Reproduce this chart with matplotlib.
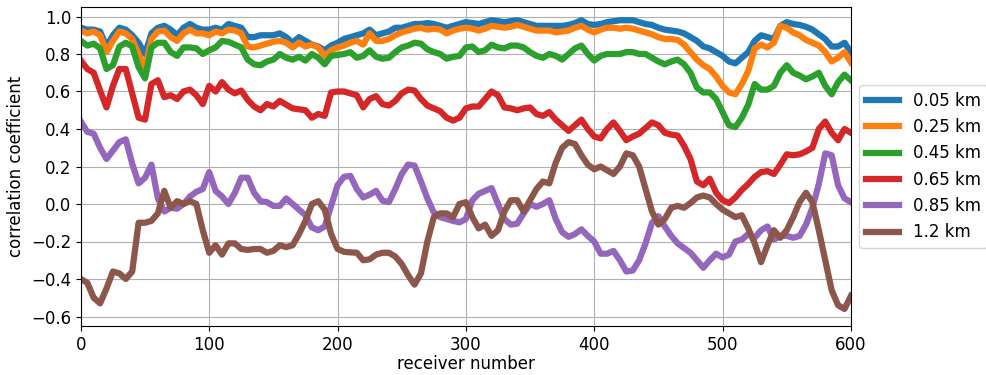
import numpy as np
import matplotlib.pyplot as plt

# receiver numbers (every 5th receiver)
receivers = np.arange(0, 601, 5)

labels = ["0.05 km", "0.25 km", "0.45 km", "0.65 km", "0.85 km", "1.2 km"]

corr_005 = [0.94, 0.93, 0.93, 0.92, 0.84, 0.90, 0.94, 0.93, 0.90, 0.86,
            0.80, 0.91, 0.94, 0.95, 0.93, 0.90, 0.94, 0.96, 0.94, 0.93,
            0.93, 0.94, 0.93, 0.96, 0.95, 0.94, 0.89, 0.89, 0.90, 0.90,
            0.90, 0.91, 0.89, 0.86, 0.89, 0.87, 0.85, 0.84, 0.82, 0.845,
            0.86, 0.88, 0.89, 0.90, 0.91, 0.93, 0.90, 0.91, 0.92, 0.94,
            0.94, 0.95, 0.96, 0.96, 0.965, 0.96, 0.95, 0.94, 0.95, 0.96,
            0.97, 0.965, 0.96, 0.97, 0.98, 0.975, 0.97, 0.975, 0.98, 0.97,
            0.96, 0.95, 0.95, 0.95, 0.95, 0.95, 0.955, 0.965, 0.98, 0.96,
            0.955, 0.96, 0.97, 0.975, 0.98, 0.98, 0.98, 0.97, 0.96, 0.955,
            0.94, 0.93, 0.925, 0.92, 0.91, 0.89, 0.87, 0.84, 0.83, 0.81,
            0.79, 0.76, 0.75, 0.78, 0.81, 0.87, 0.90, 0.89, 0.88, 0.95,
            0.97, 0.96, 0.955, 0.945, 0.93, 0.905, 0.88, 0.84, 0.84, 0.86,
            0.81]

corr_025 = [0.925, 0.91, 0.92, 0.90, 0.81, 0.87, 0.92, 0.91, 0.88, 0.80,
            0.72, 0.88, 0.92, 0.925, 0.89, 0.87, 0.91, 0.93, 0.91, 0.91,
            0.90, 0.92, 0.91, 0.93, 0.925, 0.91, 0.84, 0.835, 0.845, 0.855,
            0.865, 0.87, 0.86, 0.835, 0.86, 0.84, 0.85, 0.835, 0.79, 0.82,
            0.835, 0.845, 0.86, 0.87, 0.85, 0.91, 0.87, 0.87, 0.88, 0.90,
            0.915, 0.925, 0.935, 0.94, 0.93, 0.935, 0.93, 0.91, 0.925, 0.935,
            0.94, 0.935, 0.925, 0.935, 0.95, 0.945, 0.94, 0.945, 0.955, 0.945,
            0.935, 0.925, 0.925, 0.925, 0.915, 0.92, 0.925, 0.94, 0.95, 0.93,
            0.915, 0.93, 0.94, 0.94, 0.935, 0.94, 0.935, 0.925, 0.915, 0.905,
            0.89, 0.88, 0.88, 0.875, 0.85, 0.81, 0.77, 0.74, 0.72, 0.68,
            0.63, 0.595, 0.585, 0.64, 0.71, 0.83, 0.85, 0.835, 0.86, 0.95,
            0.94, 0.915, 0.90, 0.875, 0.86, 0.845, 0.81, 0.76, 0.78, 0.81,
            0.755]

corr_045 = [0.87, 0.845, 0.855, 0.83, 0.72, 0.74, 0.84, 0.86, 0.84, 0.73,
            0.67, 0.835, 0.86, 0.86, 0.81, 0.79, 0.835, 0.835, 0.83, 0.80,
            0.82, 0.835, 0.87, 0.865, 0.85, 0.835, 0.77, 0.745, 0.74, 0.76,
            0.77, 0.80, 0.78, 0.77, 0.785, 0.765, 0.80, 0.78, 0.745, 0.79,
            0.795, 0.80, 0.81, 0.78, 0.79, 0.82, 0.785, 0.775, 0.78, 0.81,
            0.835, 0.845, 0.86, 0.855, 0.825, 0.81, 0.80, 0.775, 0.785, 0.79,
            0.835, 0.84, 0.81, 0.82, 0.85, 0.835, 0.83, 0.845, 0.845, 0.835,
            0.81, 0.79, 0.78, 0.80, 0.79, 0.77, 0.80, 0.83, 0.845, 0.80,
            0.765, 0.79, 0.80, 0.80, 0.80, 0.81, 0.81, 0.80, 0.80, 0.78,
            0.76, 0.745, 0.76, 0.77, 0.745, 0.70, 0.62, 0.595, 0.595, 0.56,
            0.49, 0.42, 0.41, 0.46, 0.53, 0.64, 0.61, 0.61, 0.63, 0.70,
            0.74, 0.70, 0.685, 0.665, 0.68, 0.70, 0.63, 0.585, 0.65, 0.69,
            0.66]

corr_065 = [0.765, 0.72, 0.70, 0.605, 0.515, 0.63, 0.72, 0.72, 0.59, 0.46,
            0.45, 0.64, 0.66, 0.57, 0.58, 0.56, 0.60, 0.61, 0.58, 0.533,
            0.63, 0.60, 0.65, 0.61, 0.59, 0.605, 0.555, 0.52, 0.50, 0.533,
            0.52, 0.55, 0.53, 0.51, 0.505, 0.50, 0.46, 0.48, 0.47, 0.595,
            0.60, 0.60, 0.59, 0.58, 0.515, 0.56, 0.575, 0.533, 0.525, 0.55,
            0.59, 0.61, 0.605, 0.56, 0.525, 0.51, 0.495, 0.46, 0.445, 0.46,
            0.51, 0.52, 0.52, 0.56, 0.60, 0.58, 0.515, 0.51, 0.50, 0.51,
            0.515, 0.48, 0.47, 0.49, 0.45, 0.42, 0.39, 0.42, 0.45, 0.40,
            0.36, 0.35, 0.40, 0.435, 0.39, 0.34, 0.36, 0.375, 0.405, 0.435,
            0.42, 0.38, 0.37, 0.365, 0.31, 0.24, 0.12, 0.10, 0.135, 0.06,
            0.02, 0.005, 0.035, 0.075, 0.107, 0.145, 0.17, 0.175, 0.16, 0.21,
            0.265, 0.26, 0.265, 0.28, 0.30, 0.40, 0.44, 0.38, 0.34, 0.40,
            0.38]

corr_085 = [0.44, 0.385, 0.375, 0.30, 0.24, 0.285, 0.33, 0.345, 0.215, 0.11,
            0.14, 0.21, 0.03, -0.04, -0.02, -0.025, 0.0, 0.04, 0.065, 0.08,
            0.17, 0.07, 0.04, 0.0, 0.06, 0.14, 0.14, 0.06, 0.015, 0.01,
            -0.01, -0.01, 0.03, 0.0, -0.03, -0.06, -0.125, -0.14, -0.12, -0.01,
            0.10, 0.145, 0.15, 0.08, 0.035, 0.05, 0.07, 0.018, 0.01, 0.08,
            0.16, 0.21, 0.205, 0.12, 0.03, -0.045, -0.07, -0.08, -0.09, -0.098,
            -0.08, 0.02, 0.055, 0.07, 0.085, 0.0, -0.08, -0.11, -0.105, -0.05,
            0.0, -0.015, 0.0, 0.02, -0.08, -0.15, -0.175, -0.16, -0.135, -0.17,
            -0.20, -0.265, -0.265, -0.25, -0.30, -0.36, -0.355, -0.30, -0.21, -0.10,
            -0.065, -0.12, -0.17, -0.21, -0.235, -0.26, -0.30, -0.34, -0.30, -0.265,
            -0.285, -0.27, -0.20, -0.19, -0.16, -0.18, -0.14, -0.12, -0.19, -0.17,
            -0.17, -0.18, -0.17, -0.11, -0.02, 0.107, 0.27, 0.26, 0.10, 0.03,
            0.01]

corr_12 = [-0.40, -0.42, -0.50, -0.53, -0.45, -0.36, -0.37, -0.40, -0.36, -0.10,
           -0.10, -0.09, -0.05, 0.07, -0.02, 0.015, 0.0, 0.015, 0.0, -0.14,
           -0.26, -0.22, -0.27, -0.21, -0.21, -0.24, -0.245, -0.24, -0.24, -0.26,
           -0.25, -0.22, -0.23, -0.22, -0.16, -0.09, 0.0, 0.015, -0.03, -0.16,
           -0.24, -0.255, -0.258, -0.26, -0.30, -0.295, -0.27, -0.26, -0.26, -0.28,
           -0.32, -0.38, -0.43, -0.37, -0.20, -0.07, -0.05, -0.05, -0.07, 0.0,
           0.01, -0.07, -0.13, -0.11, -0.17, -0.14, -0.04, 0.02, 0.02, -0.04,
           0.02, 0.08, 0.12, 0.11, 0.22, 0.30, 0.33, 0.32, 0.26, 0.21,
           0.185, 0.20, 0.18, 0.16, 0.20, 0.27, 0.26, 0.20, 0.08, -0.04,
           -0.11, -0.08, -0.02, -0.01, -0.02, 0.005, 0.035, 0.045, 0.035, 0.0,
           -0.03, -0.05, -0.07, -0.06, -0.13, -0.21, -0.31, -0.22, -0.14, -0.18,
           -0.14, -0.07, 0.01, 0.06, 0.01, -0.14, -0.30, -0.46, -0.54, -0.56,
           -0.49]

series = [corr_005, corr_025, corr_045, corr_065, corr_085, corr_12]

plt.rcParams["font.size"] = 12

fig = plt.figure(figsize=(9.86, 3.75), dpi=100)
ax = fig.add_axes([0.082, 0.131, 0.781, 0.85])

for vals, lab in zip(series, labels):
    ax.plot(receivers, vals, lw=4.5, label=lab)

ax.set_xlim(0, 600)
ax.set_ylim(-0.65, 1.05)
ax.set_xticks(np.arange(0, 601, 100))
ax.set_yticks(np.arange(-0.6, 1.01, 0.2))
ax.grid(True)
ax.set_xlabel("receiver number", labelpad=1)
ax.set_ylabel("correlation coefficient")
ax.legend(loc="center left", bbox_to_anchor=(1.0, 0.5))

fig.savefig("out.png", dpi=100)
